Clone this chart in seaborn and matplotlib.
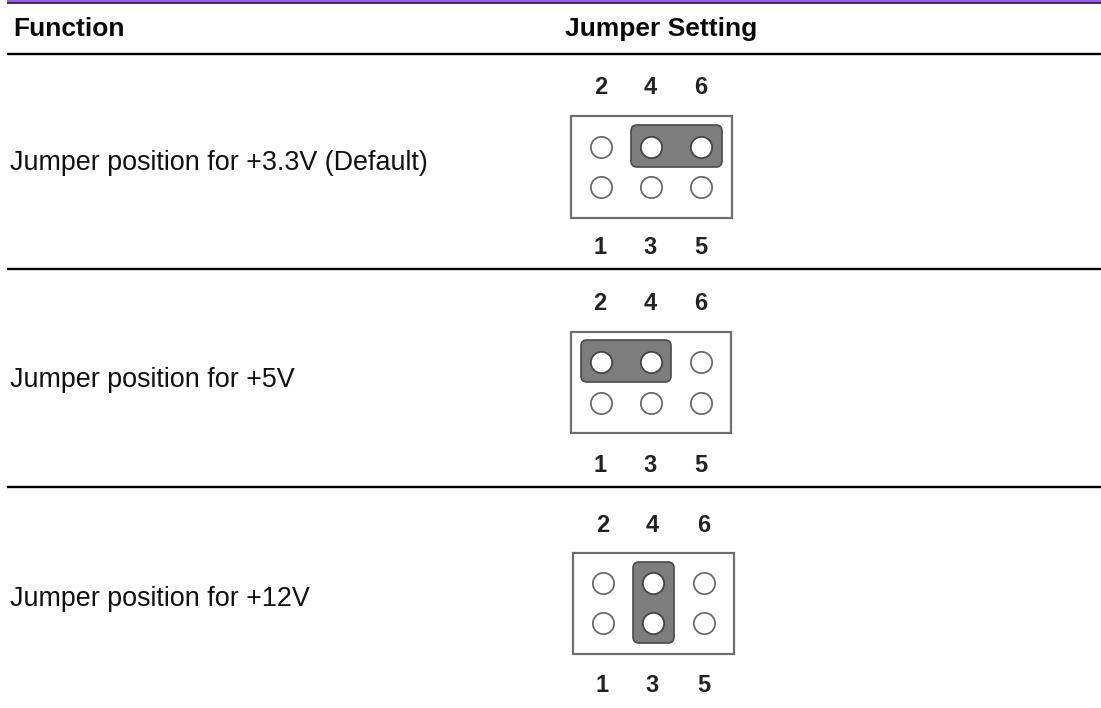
import matplotlib
matplotlib.use("Agg")
import matplotlib.pyplot as plt
from matplotlib.patches import Rectangle, FancyBboxPatch
import pandas as pd
import seaborn as sns

functions = ["Jumper position for +3.3V (Default)", "Jumper position for +5V", "Jumper position for +12V"]
function_y = [163, 380, 599]
headers = ["Function", "Jumper Setting"]
top_labels = ["2", "4", "6"]
bottom_labels = ["1", "3", "5"]
# per panel: column centres, row centres, label rows, box extents, jumper extents
col_x = [[601, 651, 701], [600.5, 651, 701], [603, 653, 704]]
row_y = [[147, 187], [362, 403], [583, 623]]
label_y = [[88, 248], [304, 465], [525, 685]]
box = [(571, 116, 161, 102), (571, 332, 160, 101), (573, 553, 161, 101)]
jumper = [(631, 125, 91, 42), (581, 340, 90, 42), (633, 562, 41, 81)]
# which holes are covered by the jumper: (col index, row index)
covered = [[(1, 0), (2, 0)], [(0, 0), (1, 0)], [(1, 0), (1, 1)]]
rules_y = [53.5, 269, 487]

sns.set_theme(style="white")
plt.rcParams["font.family"] = ["Liberation Sans", "DejaVu Sans"]

fig = plt.figure(figsize=(11.01, 7.08), dpi=100, facecolor="white")
ax = fig.add_axes([0, 0, 1, 1])
ax.set_xlim(0, 1101)
ax.set_ylim(708, 0)
ax.axis("off")

ax.plot([7, 1101], [1.1, 1.1], color="#9a5ce6", lw=1.7, solid_capstyle="butt")
ax.plot([7, 1101], [3.1, 3.1], color="#000000", lw=1.1, solid_capstyle="butt")
for y in rules_y:
    ax.plot([7, 1101], [y, y], color="#000000", lw=1.7, solid_capstyle="butt")

ax.text(13.5, 29, headers[0], fontsize=19, fontweight="bold", color="#0a0a0a", va="center", ha="left")
ax.text(661, 29, headers[1], fontsize=19, fontweight="bold", color="#0a0a0a", va="center", ha="center")
for name, y in zip(functions, function_y):
    ax.text(10, y, name, fontsize=19.4, color="#111111", va="center", ha="left")

rows = []
for p in range(3):
    x0, y0, w, h = box[p]
    ax.add_patch(Rectangle((x0, y0), w, h, fc="white", ec="#6e6e6e", lw=1.6, zorder=1))
    jx, jy, jw, jh = jumper[p]
    ax.add_patch(FancyBboxPatch((jx + 5, jy + 5), jw - 10, jh - 10, boxstyle="round,pad=5,rounding_size=6",
                                fc="#7d7d7d", ec="#4a4a4a", lw=1.2, zorder=2))
    for c, x in enumerate(col_x[p]):
        for r, y in enumerate(row_y[p]):
            rows.append({"x": x, "y": y, "on": (c, r) in covered[p]})
    for x, a, b in zip(col_x[p], top_labels, bottom_labels):
        ax.text(x - 0.5, label_y[p][0], a, fontsize=17, fontweight="bold", color="#222222", ha="center", va="center")
        ax.text(x - 0.5, label_y[p][1], b, fontsize=17, fontweight="bold", color="#222222", ha="center", va="center")

holes = pd.DataFrame(rows)
sns.scatterplot(data=holes[~holes["on"]], x="x", y="y", s=235, color="white", edgecolor="#6a6a6a",
                linewidth=1.3, ax=ax, zorder=3, legend=False)
sns.scatterplot(data=holes[holes["on"]], x="x", y="y", s=235, color="white", edgecolor="#444444",
                linewidth=1.3, ax=ax, zorder=3, legend=False)
ax.set_xlim(0, 1101)
ax.set_ylim(708, 0)
ax.axis("off")
fig.savefig("out.png", dpi=100, facecolor="white")
